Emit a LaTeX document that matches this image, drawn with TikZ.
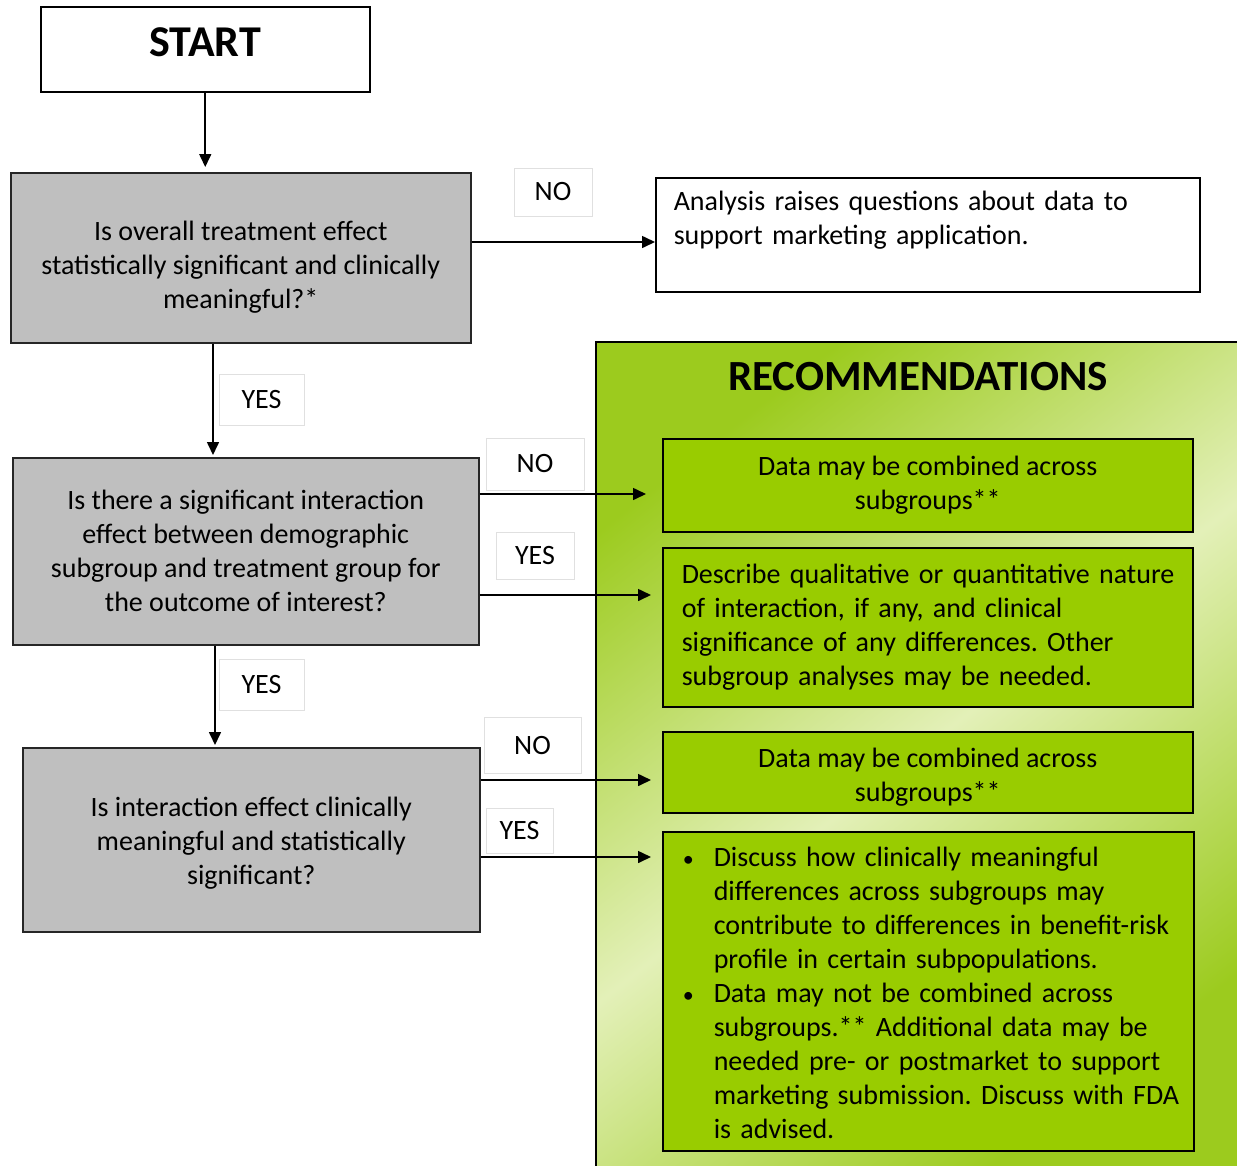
\documentclass[tikz,border=0pt]{standalone}
\usepackage{fontspec}
\setmainfont{Carlito}
\usetikzlibrary{arrows.meta,calc}
\definecolor{qgray}{HTML}{BFBFBF}
\definecolor{rgreen}{HTML}{99CC00}
\definecolor{pgreen}{HTML}{9CCB1E}
\definecolor{ppale}{HTML}{E3F0B8}
\begin{document}
\frenchspacing
\begin{tikzpicture}[x=1pt,y=-1pt,
  txt/.style={font=\fontsize{28}{34}\selectfont},
  box/.style={draw=black, line width=1.5pt, txt, inner sep=0pt, anchor=north west, align=center},
  qbox/.style={box, fill=qgray, draw=black!85},
  rbox/.style={box, fill=rgreen},
  lab/.style={draw=black!12, line width=0.6pt, fill=white, txt, inner sep=0pt},
  arr/.style={line width=1.6pt, -{Triangle[length=13pt,width=12pt]}}
]
\useasboundingbox (0,0) rectangle (1237,1165);
\clip (0,0) rectangle (1237,1165);
\fill[white] (0,0) rectangle (1237,1165);
% recommendations panel
\shade[left color=pgreen, right color=pgreen, middle color=ppale, shading angle=38] (596,342) rectangle (1237,1165);
\draw[line width=1.2pt] (596,342) rectangle (1260,1190);
\node[txt, font=\fontsize{43}{50}\selectfont\bfseries] (rec) at (918,377) {RECOMMENDATIONS};

% boxes
\node[box, minimum width=329pt, minimum height=85pt, font=\fontsize{44}{50}\selectfont\bfseries] (start) at (40,6) {START\rule[-15pt]{0pt}{15pt}};
\node[qbox, minimum width=460pt, minimum height=170pt] (q1) at (10,172)
  {\rule{0pt}{39pt}Is overall treatment effect\\statistically significant and clinically\\meaningful?*};
\node[box, minimum width=544pt, minimum height=114pt, text width=508pt, inner xsep=18pt, align=left] (an) at (655,177)
  {Analysis raises questions about data to\\support marketing application.\rule[-34pt]{0pt}{34pt}};
\node[qbox, minimum width=466pt, minimum height=187pt] (q2) at (12,457)
  {Is there a significant interaction\\effect between demographic\\subgroup and treatment group for\\the outcome of interest?};
\node[qbox, minimum width=457pt, minimum height=184pt] (q3) at (22,747)
  {\rule{0pt}{27pt}Is interaction effect clinically\\meaningful and statistically\\significant?};

\node[rbox, minimum width=530pt, minimum height=93pt] (r1) at (662,438)
  {Data may be combined across\\subgroups**};
\node[rbox, minimum width=530pt, minimum height=159pt, text width=492pt, inner xsep=19pt, align=left] (r2) at (662,547)
  {\begin{tabular}{@{}l@{}}
  Describe qualitative or quantitative nature\\
  of interaction, if any, and clinical\\
  significance of any differences. Other\\
  subgroup analyses may be needed.
  \end{tabular}};
\node[rbox, minimum width=530pt, minimum height=81pt] (r3) at (662,731)
  {\rule{0pt}{29pt}Data may be combined across\\subgroups**};
\node[rbox, minimum width=531pt, minimum height=319pt, text width=491pt, inner xsep=20pt, align=left] (r4) at (662,831)
  {\begin{tabular}{@{}l@{}l@{}}
  \makebox[31pt][l]{\fontsize{22}{34}\selectfont•}\rule{0pt}{32pt} & Discuss how clinically meaningful\\
   & differences across subgroups may\\
   & contribute to differences in benefit-risk\\
   & profile in certain subpopulations.\\
  \makebox[31pt][l]{\fontsize{22}{34}\selectfont•} & Data may not be combined across\\
   & subgroups.** Additional data may be\\
   & needed pre- or postmarket to support\\
   & marketing submission. Discuss with FDA\\
   & is advised.
  \end{tabular}};

% labels
\node[lab, minimum width=78pt, minimum height=48pt] (lno1) at (553,192) {NO};
\node[lab, minimum width=85pt, minimum height=51pt] (lyes1) at (261.5,399.5) {YES};
\node[lab, minimum width=98pt, minimum height=52pt] (lno2) at (535,464) {NO};
\node[lab, minimum width=78pt, minimum height=47pt] (lyes2) at (535,555.5) {YES};
\node[lab, minimum width=85pt, minimum height=51pt] (lyes3) at (261.5,684.5) {YES};
\node[lab, minimum width=97pt, minimum height=56pt] (lno3) at (532.5,745) {NO};
\node[lab, minimum width=67pt, minimum height=45pt] (lyes4) at (519.5,830.5) {YES};

% connectors
\draw[arr, shorten >=5pt] (start.south) -- (start.south |- q1.north);
\draw[arr] (q1.east |- 0,242) -- (an.west |- 0,242);
\draw[arr, shorten >=2pt] (q1.south -| 213,0) -- (q2.north -| 213,0);
\draw[arr, shorten >=16pt] (q2.east |- 0,494) -- (r1.west |- 0,494);
\draw[arr, shorten >=11pt] (q2.east |- 0,595) -- (r2.west |- 0,595);
\draw[arr, shorten >=2pt] (q2.south -| 215,0) -- (q3.north -| 215,0);
\draw[arr, shorten >=11pt] (q3.east |- 0,780) -- (r3.west |- 0,780);
\draw[arr, shorten >=11pt] (q3.east |- 0,857) -- (r4.west |- 0,857);
\end{tikzpicture}
\end{document}
